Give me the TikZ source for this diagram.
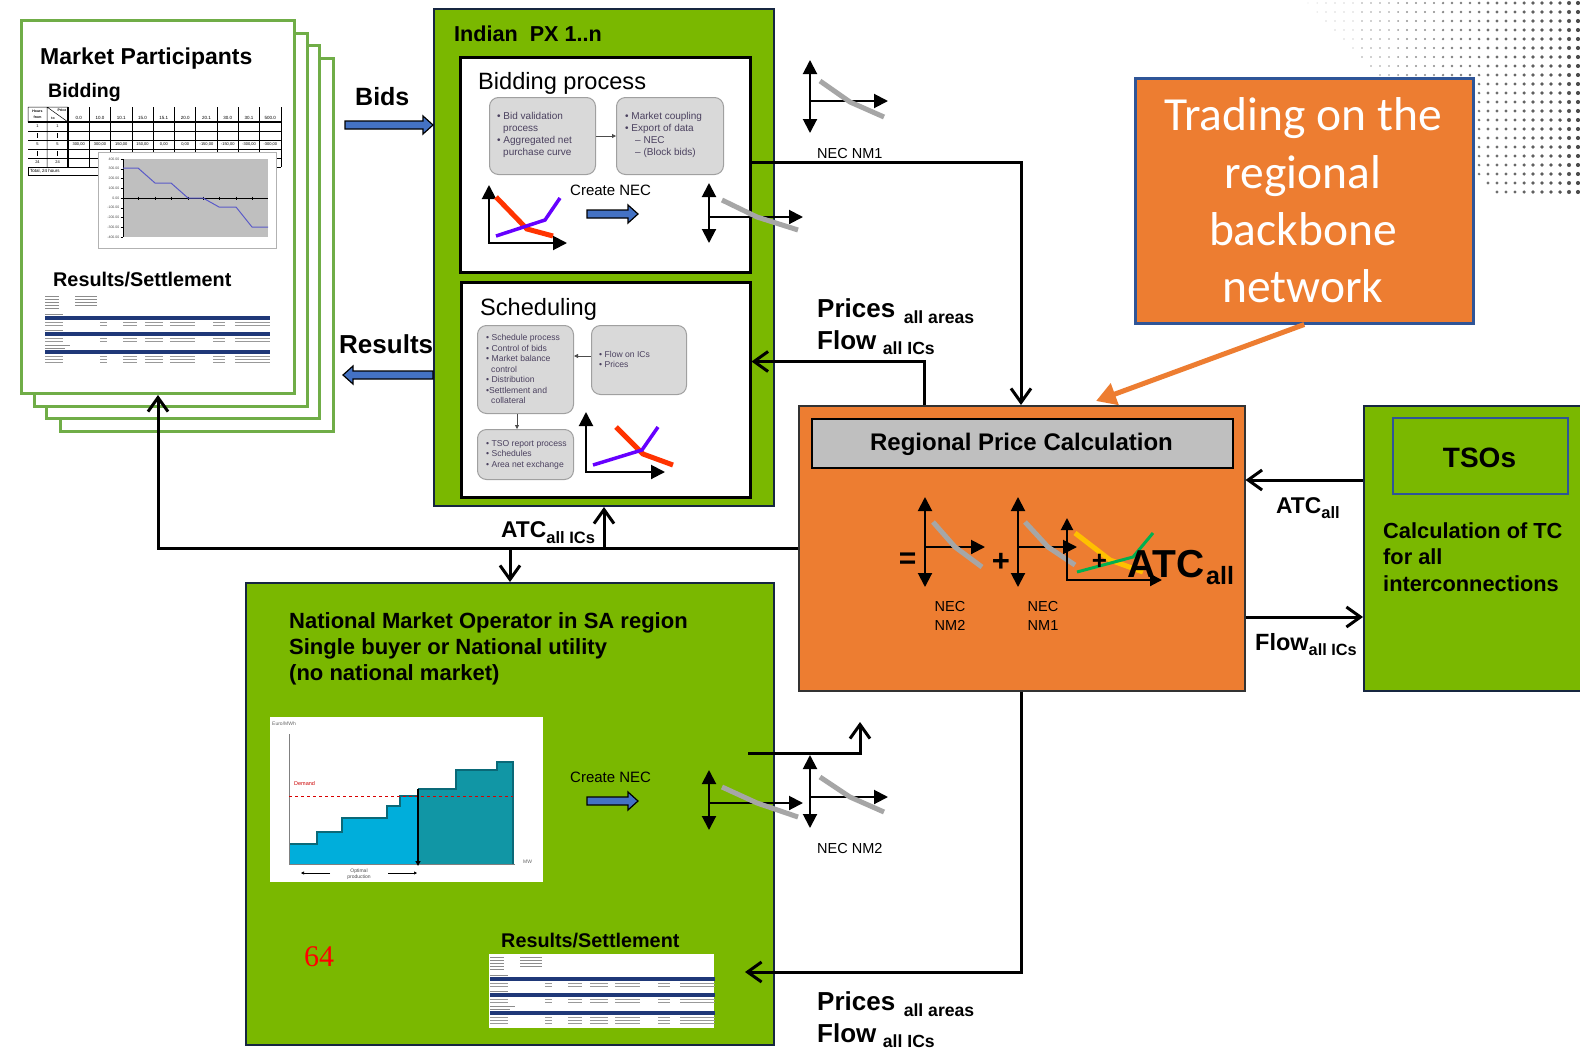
\documentclass[tikz,border=0pt]{standalone}
\usepackage{fontspec}
\setmainfont{Liberation Sans}
\newfontfamily\calibrifont{Carlito}
\newfontfamily\timesfont{Liberation Serif}
\usetikzlibrary{arrows.meta,calc}

\definecolor{pxgreen}{RGB}{122,184,0}
\definecolor{navyline}{RGB}{22,38,64}
\definecolor{pagegreen}{RGB}{112,173,71}
\definecolor{orng}{RGB}{237,125,49}
\definecolor{blockblue}{RGB}{68,114,196}
\definecolor{tsoblue}{RGB}{47,85,151}
\definecolor{boxfill}{RGB}{217,217,217}
\definecolor{boxline}{RGB}{160,160,160}
\definecolor{curvegray}{RGB}{166,166,166}
\definecolor{redline}{RGB}{255,51,0}
\definecolor{purpline}{RGB}{102,0,255}
\definecolor{yell}{RGB}{255,192,0}
\definecolor{grn}{RGB}{0,176,80}
\definecolor{titlegray}{RGB}{191,191,191}
\definecolor{stepblue}{RGB}{0,174,219}
\definecolor{stepteal}{RGB}{17,150,165}
\definecolor{steptealdark}{RGB}{10,105,120}
\definecolor{tinytext}{RGB}{75,65,95}
\definecolor{docnavy}{RGB}{31,56,120}
\definecolor{chartblue}{RGB}{90,90,200}

\newcommand\fsz[2]{\fontsize{#1}{#2}\selectfont}

\newcommand\necicon[8]{%
 \begin{scope}[shift={(#1,#2)}]
  \draw[axisline,{Triangle[length=14pt,width=14pt]}-{Triangle[length=14pt,width=14pt]}] (0,-#3) -- (0,#4);
  \draw[axisline,-{Triangle[length=14pt,width=14pt]}] (0,0) -- (#5,0);
  \draw[necline] #6 -- #7 -- #8;
 \end{scope}}

\newcommand\blockarrow[2]{%
 \draw[blockarrowstyle] let \p1=#1, \p2=#2, \n1={sign(\x2-\x1)} in
  ({\x1},{\y1+4pt}) -- ({\x2-\n1*10pt},{\y1+4pt}) -- ({\x2-\n1*10pt},{\y1+9pt}) -- ({\x2},{\y1})
  -- ({\x2-\n1*10pt},{\y1-9pt}) -- ({\x2-\n1*10pt},{\y1-4pt}) -- ({\x1},{\y1-4pt}) -- cycle;}

\newcommand\docrow[1]{%
 \draw[black!40] (0,#1) -- (18,#1) (55,#1) -- (62,#1) (78,#1) -- (92,#1) (100,#1) -- (118,#1)
   (125,#1) -- (150,#1) (168,#1) -- (180,#1) (190,#1) -- (225,#1);}

\newcommand\settledoc[2]{%
 \begin{scope}[shift={(#1,#2)}, line width=0.7pt]
  \foreach \yy in {1,4,7,10,13} \draw[black!45] (0,\yy) -- (14,\yy);
  \foreach \yy in {1,4,7,10} \draw[black!45] (30,\yy) -- (52,\yy);
  \draw[black!45] (0,19) -- (18,19);
  \fill[docnavy] (0,21) rectangle (225,24.5);
  \docrow{27.5}\docrow{30.5}
  \draw[black!45] (0,35) -- (18,35);
  \fill[docnavy] (0,37) rectangle (225,40.5);
  \docrow{43.5}\docrow{46.5}
  \draw[black!45] (0,50) -- (25,50) (0,53) -- (20,53);
  \fill[docnavy] (0,55) rectangle (225,58.5);
  \docrow{61.5}\docrow{64.5}\docrow{67.5}
 \end{scope}}

\begin{document}
\begin{tikzpicture}[x=1pt,y=-1pt,
  conn/.style={line width=3pt,-{Straight Barb[length=14pt,width=20pt]}},
  axisline/.style={line width=2pt},
  necline/.style={line width=5pt,curvegray},
  pxbox/.style={draw=navyline,line width=2pt,fill=pxgreen,inner sep=0pt,anchor=north west},
  wbox/.style={draw=black,line width=2.5pt,fill=white,inner sep=0pt,anchor=north west},
  gbox/.style={draw=boxline,line width=1pt,fill=boxfill,rounded corners=9pt,inner sep=0pt,anchor=north west},
  pagebox/.style={draw=pagegreen,line width=3pt,fill=white,inner sep=0pt,anchor=north west,minimum width=273pt,minimum height=373pt},
  lbl/.style={inner sep=0pt,anchor=base west},
  boxtxt/.style={inner sep=0pt,anchor=north west,align=left,text=tinytext},
  blockarrowstyle/.style={draw=black,line width=1.2pt,fill=blockblue,line join=miter},
  smallarr/.style={line width=0.8pt,black!70,-{Triangle[length=4pt,width=4pt]}},
  orarrow/.style={line width=5pt,orng,-{Triangle[length=20pt,width=22pt]}},
  tiny/.style={inner sep=0pt,font={\fsz{4}{4.5}}}
]
\useasboundingbox (0,0) rectangle (1580,1050);
\fill[white] (0,0) rectangle (1580,1050);

% ---------- halftone dots top right
\foreach \yy in {3,12,...,192} {
  \foreach \xx in {1308,1317,...,1578} {
    \pgfmathtruncatemacro\ok{(\xx>1302+\yy)}
    \ifnum\ok=1
      \pgfmathsetmacro\rr{0.4+1.7*(\xx-1300)/280}
      \pgfmathsetmacro\cc{25+45*(\xx-1300)/280}
      \fill[black!\cc] (\xx,\yy) circle[radius=\rr pt];
    \fi
  }
}

% ---------- Market participants pages
\node[pagebox] (mp4) at (59,57) {};
\node[pagebox] (mp3) at (45,44) {};
\node[pagebox] (mp2) at (33,32) {};
\node[pagebox] (mp1) at (20,19) {};
\node[lbl,font={\fsz{23}{27}\bfseries}] (mptitle) at (40,64) {Market Participants};
\node[lbl,font={\fsz{19.5}{23}\bfseries}] (mpbid) at (48,97) {Bidding};

% bid table
\begin{scope}[shift={(28,107)}]
  \draw[line width=1.2pt] (0,15) -- (253,15);
  \draw[line width=0.5pt] (0,0) -- (40,0) (0,0) -- (0,15) (19,0) -- (19,60) (19,0) -- (40,15);
  \draw[line width=0.5pt] (0,24) -- (253,24) (0,33) -- (253,33) (0,42) -- (253,42) (0,51) -- (253,51) (0,60) -- (253,60);
  \draw[line width=1.2pt] (40,0) -- (40,60);
  \foreach \k in {1,...,10} \draw[line width=0.7pt] ({40+21.3*\k},0) -- ({40+21.3*\k},60);
  \draw[line width=0.8pt] (0,60) rectangle (72,68);
  \node[tiny,font={\fsz{3.5}{4}\bfseries}] at (9.5,4) {Hours};
  \node[tiny,font={\fsz{3.5}{4}\bfseries}] at (9.5,10) {from};
  \node[tiny,font={\fsz{3.5}{4}\bfseries}] at (34,3.5) {Price};
  \node[tiny,font={\fsz{3.5}{4}\bfseries}] at (25,11) {to};
  \foreach \v [count=\k] in {0.0,10.0,10.1,15.0,15.1,20.0,20.1,30.0,30.1,500.0}
    \node[tiny,font={\fsz{4.5}{5}}] at ({40+21.3*\k-10.65},10.5) {\v};
  \node[tiny] at (9.5,19.5) {1};
  \node[tiny] at (29.5,19.5) {1};
  \draw[line width=0.4pt] (9.5,26) -- (9.5,31) (29.5,26) -- (29.5,31) (9.5,44) -- (9.5,49) (29.5,44) -- (29.5,49);
  \node[tiny] at (9.5,37.5) {5};
  \node[tiny] at (29.5,37.5) {5};
  \foreach \v [count=\k] in {{300,00},{300,00},{150,00},{150,00},{0,00},{0,00},{-150,00},{-150,00},{-300,00},{-300,00}}
    \node[tiny] at ({40+21.3*\k-10.65},37.5) {\v};
  \node[tiny] at (9.5,55.5) {24};
  \node[tiny] at (29.5,55.5) {24};
  \node[tiny,anchor=west,font={\fsz{4.5}{5}}] at (2,64.5) {Total, 24 hours};
\end{scope}

% bid chart
\node[draw=black!30,line width=1pt,fill=white,inner sep=0pt,anchor=north west,minimum width=178pt,minimum height=96pt] (mpchart) at (98,152) {};
\fill[black!25] (123,159) rectangle (268,237);
\draw[line width=0.6pt] (123,159) -- (123,237);
\foreach \v [count=\k from 0] in {400.00,300.00,200.00,100.00,0.00,-100.00,-200.00,-300.00,-400.00} {
  \draw[line width=0.5pt] (120.5,{159+9.75*\k}) -- (123,{159+9.75*\k});
  \node[inner sep=0pt,anchor=east,font={\fsz{3.5}{4}},text=black!70] at (119.5,{159+9.75*\k}) {\v};
}
\draw[line width=0.6pt] (123,198) -- (268,198);
\foreach \xx in {138,155,171,188,203,219,236,252} \draw[line width=0.6pt] (\xx,196.5) -- (\xx,199.5);
\draw[chartblue,line width=1pt] (123,168) -- (138,168) -- (155,183) -- (171,183) -- (188,198) -- (203,198) -- (219,207) -- (236,207) -- (252,227) -- (268,227);

\node[lbl,font={\fsz{19.8}{23}\bfseries}] (mpres) at (53,286) {Results/Settlement};
\settledoc{45}{295}

% ---------- Indian PX
\node[pxbox,minimum width=340pt,minimum height=497pt] (px) at (433,8) {};
\node[lbl,font={\fsz{21.6}{25}\bfseries}] (pxtitle) at (454,41) {Indian~ PX 1..n};

\node[wbox,minimum width=290pt,minimum height=215pt] (bidbox) at (459,56) {};
\node[lbl,font={\fsz{23.6}{27}}] (bidtitle) at (478,89) {Bidding process};
\node[gbox,minimum width=106pt,minimum height=77pt] (ga) at (489,97) {};
\node[gbox,minimum width=107pt,minimum height=77pt] (gb) at (616,97) {};
\node[boxtxt,font={\fsz{10}{12}}] (gatxt) at (497,112.5) {• Bid validation\\\hspace*{6pt}process\\• Aggregated net\\\hspace*{6pt}purchase curve};
\node[boxtxt,font={\fsz{10}{12}}] (gbtxt) at (625,112.5) {• Market coupling\\• Export of data\\\hspace*{10pt}– NEC\\\hspace*{10pt}– (Block bids)};
\draw[smallarr] (ga.east) -- (gb.west);

\draw[axisline,{Triangle[length=14pt,width=14pt]}-{Triangle[length=14pt,width=14pt]}] (489,185) -- (489,243) -- (567,243);
\draw[line width=5pt,redline] (496,197) -- (527,229) -- (553,236);
\draw[line width=3.5pt,purpline] (496,236) -- (545,220) -- (560,198);
\node[lbl,font={\fsz{15}{18}}] (cnec1) at (570,195) {Create NEC};
\coordinate (cn1a) at (587,214);
\coordinate (cn1b) at (638,214);
\blockarrow{(cn1a)}{(cn1b)}

\node[wbox,minimum width=289pt,minimum height=215pt] (schedbox) at (460,281) {};
\node[lbl,font={\fsz{23.6}{27}}] (schedtitle) at (480,315) {Scheduling};
\node[gbox,minimum width=96pt,minimum height=88pt] (gc) at (477,325) {};
\node[gbox,minimum width=95pt,minimum height=69pt] (gd) at (591,325) {};
\node[gbox,minimum width=96pt,minimum height=50pt] (ge) at (477,429) {};
\node[boxtxt,font={\fsz{8.6}{10.5}}] (gctxt) at (486,334.5) {• Schedule process\\• Control of bids\\• Market balance\\\hspace*{5pt}control\\• Distribution\\•Settlement and\\\hspace*{5pt}collateral};
\node[boxtxt,font={\fsz{8.6}{10.5}}] (gdtxt) at (599,351) {• Flow on ICs\\• Prices};
\node[boxtxt,font={\fsz{8.6}{10.5}}] (getxt) at (486,440) {• TSO report process\\• Schedules\\• Area net exchange};
\draw[smallarr] (gd.west |- 0,356) -- (gc.east |- 0,356);
\draw[smallarr] (gc.south -| 517,0) -- (ge.north -| 517,0);

\draw[axisline,{Triangle[length=14pt,width=14pt]}-{Triangle[length=14pt,width=14pt]}] (586,412) -- (586,472) -- (665,472);
\draw[line width=5pt,redline] (616,427) -- (643,454) -- (673,465);
\draw[line width=3.5pt,purpline] (593,465) -- (642,450) -- (658,427);

% ---------- National market operator
\node[pxbox,minimum width=528pt,minimum height=462pt] (nmo) at (245,582) {};
\node[boxtxt,text=black,font={\fsz{22}{26}\bfseries}] (nmotitle) at (289,612.3) {National Market Operator in SA region\\Single buyer or National utility\\(no national market)};
\node[fill=white,inner sep=0pt,anchor=north west,minimum width=273pt,minimum height=165pt] (merit) at (270,717) {};
\fill[stepblue] (289,864) -- (289,844) -- (317,844) -- (317,832) -- (342,832) -- (342,818) -- (387,818) -- (387,806) -- (400,806) -- (400,796) -- (418,796) -- (418,864) -- cycle;
\fill[stepteal] (418,864) -- (418,789) -- (456,789) -- (456,770) -- (497,770) -- (497,762) -- (513,762) -- (513,864) -- cycle;
\draw[steptealdark,line width=1.5pt] (289,844) -- (317,844) -- (317,832) -- (342,832) -- (342,818) -- (387,818) -- (387,806) -- (400,806) -- (400,796) -- (418,796) (418,789) -- (456,789) -- (456,770) -- (497,770) -- (497,762) -- (513,762) -- (513,864);
\draw[black!50,line width=0.8pt] (289,734) -- (289,864) -- (515,864);
\draw[red!85!black,dashed,line width=0.8pt] (289,796) -- (513,796);
\draw[line width=1.5pt,-{Triangle[length=5pt,width=5pt]}] (418,789) -- (418,866);
\node[inner sep=0pt,anchor=west,font={\fsz{5}{6}},text=black!60] at (272,724) {Euro/MWh};
\node[inner sep=0pt,anchor=west,font={\fsz{5.5}{6}},text=red!80!black] at (294,784) {Demand};
\node[inner sep=0pt,anchor=west,font={\fsz{5}{6}},text=black!60] at (523,862) {MW};
\node[inner sep=0pt,align=center,font={\fsz{5}{6}},text=black!70] at (359,874.5) {Optimal\\production};
\draw[line width=0.7pt,-{Triangle[length=3pt,width=3pt]}] (330,873) -- (301,873);
\draw[line width=0.7pt,-{Triangle[length=3pt,width=3pt]}] (388,873) -- (417,873);

\node[lbl,font={\fsz{15}{18}}] (cnec2) at (570,782) {Create NEC};
\coordinate (cn2a) at (587,801);
\coordinate (cn2b) at (638,801);
\blockarrow{(cn2a)}{(cn2b)}

\node[lbl,font={\fsz{19.8}{23}\bfseries}] (nmores) at (501,947) {Results/Settlement};
\node[fill=white,inner sep=0pt,anchor=north west,minimum width=225pt,minimum height=74pt] (nmodoc) at (489,954) {};
\settledoc{490}{956}
\node[lbl,font={\timesfont\fsz{30}{34}},text=red] (pagenum) at (304,966) {64};

% ---------- Regional price calculation
\node[draw=black!80,line width=1.5pt,fill=orng,inner sep=0pt,anchor=north west,minimum width=446pt,minimum height=285pt] (rpc) at (798,405) {};
\node[draw=black,line width=2pt,fill=titlegray,inner sep=0pt,anchor=north west,minimum width=421pt,minimum height=49pt] (rpctitle) at (811,418) {};
\node[inner sep=0pt,anchor=base,font={\fsz{24}{28}\bfseries}] (rpctext) at (1021.5,450) {Regional Price Calculation};

\necicon{925}{547}{50}{40}{60}{(8,-25)}{(30,0)}{(57,20)}
\necicon{1018}{547}{50}{40}{59}{(7,-25)}{(30,0)}{(57,18)}
\draw[axisline,{Triangle[length=12pt,width=12pt]}-{Triangle[length=12pt,width=12pt]}] (1067,518) -- (1067,580) -- (1162,580);
\draw[line width=5pt,yell] (1075,533) -- (1110,560) -- (1143,572);
\draw[line width=3pt,grn] (1077,572) -- (1133,557) -- (1153,533);
\node[inner sep=0pt,font={\fsz{30}{30}\bfseries}] (eqsign) at (907.5,560.5) {=};
\node[inner sep=0pt,font={\fsz{31}{31}\bfseries}] (plus1) at (1001,562.5) {+};
\node[inner sep=0pt,font={\fsz{26}{26}\bfseries}] (plus2) at (1099.5,562) {+};
\node[lbl,font={\fsz{39}{40}\bfseries}] (atcbig) at (1127,577) {ATC};
\node[lbl,font={\fsz{25}{28}\bfseries}] (atcbigsub) at (1206,584) {all};
\node[inner sep=0pt,anchor=north,align=center,font={\fsz{14.5}{19}}] (necnm2) at (950,601.6) {NEC\\NM2};
\node[inner sep=0pt,anchor=north,align=center,font={\fsz{14.5}{19}}] (necnm1) at (1043,601.6) {NEC\\NM1};

% ---------- TSOs
\node[pxbox,minimum width=240pt,minimum height=285pt] (tso) at (1363,405) {};
\node[draw=tsoblue,line width=2pt,fill=pxgreen,inner sep=0pt,anchor=north west,minimum width=175pt,minimum height=76pt] (tsotitle) at (1392,417) {};
\node[inner sep=0pt,anchor=base,font={\fsz{28}{32}\bfseries}] (tsotext) at (1479.5,467) {TSOs};
\node[boxtxt,text=black,font={\fsz{21.8}{26.5}\bfseries}] (tsocalc) at (1383,522.2) {Calculation of TC\\for all\\interconnections};

% ---------- NEC icons outside / inside
\necicon{709}{217}{34}{26}{94}{(13,-17)}{(48,0)}{(89,13)}
\necicon{810}{101}{41}{32}{78}{(10,-20)}{(40,1)}{(74,16)}
\node[lbl,font={\fsz{14.5}{18}}] (lblnm1) at (817,158) {NEC NM1};
\necicon{709}{803}{33}{27}{94}{(13,-16)}{(48,0)}{(89,14)}
\necicon{810}{797}{42}{31}{78}{(10,-20)}{(40,0)}{(74,15)}
\node[lbl,font={\fsz{14.5}{18}}] (lblnm2) at (817,853) {NEC NM2};

% ---------- connectors
\coordinate (nm1y) at (0,162);
\draw[conn] (bidbox.east |- nm1y) -| (rpc.north -| 1021,0);
\draw[conn] (rpc.north -| 924,0) |- (schedbox.east |- 0,361.5);
\coordinate (atcy) at (0,548);
\draw[conn] (rpc.west |- atcy) -| (mp1.south);
\draw[conn] (px.south |- atcy) -- (px.south);
\coordinate (atcdown) at (510,548);
\draw[conn] (atcdown) -- (nmo.north -| atcdown);
\draw[conn] (tso.west |- 0,480) -- (rpc.east |- 0,480);
\draw[conn] (rpc.east |- 0,617) -- (tso.west |- 0,617);
\coordinate (nm2start) at (748,753);
\coordinate (nm2end) at (860,722);
\draw[conn] (nm2start) -| (nm2end);
\coordinate (pricesend) at (745,972);
\draw[conn] (rpc.south -| 1021,0) |- (pricesend);

\coordinate (bidsstart) at (345,125);
\blockarrow{(bidsstart)}{(px.west |- bidsstart)}
\coordinate (resend) at (343,375);
\blockarrow{(px.west |- resend)}{(resend)}

% ---------- connector labels
\node[lbl,font={\fsz{25}{28}\bfseries}] (bidslbl) at (355,105) {Bids};
\node[lbl,font={\fsz{26}{28}\bfseries}] (reslbl) at (339,353) {Results};
\node[lbl,font=\bfseries] (atcics) at (501,537) {\fsz{22.8}{26}ATC\fsz{16.5}{18}\raisebox{-6pt}{all ICs}};
\node[lbl,font=\bfseries] (pricetop) at (817,317) {\fsz{26}{30}Prices\hspace{8.5pt}\fsz{17.6}{20}\raisebox{-6pt}{all areas}};
\node[lbl,font=\bfseries] (flowtop) at (817,349) {\fsz{26}{30}Flow\hspace{6.5pt}\fsz{17.6}{20}\raisebox{-5pt}{all ICs}};
\node[lbl,font=\bfseries] (pricebot) at (817,1010) {\fsz{26}{30}Prices\hspace{8.5pt}\fsz{17.6}{20}\raisebox{-6pt}{all areas}};
\node[lbl,font=\bfseries] (flowbot) at (817,1042) {\fsz{26}{30}Flow\hspace{6.5pt}\fsz{17.6}{20}\raisebox{-5pt}{all ICs}};
\node[lbl,font=\bfseries] (atcall) at (1276,513) {\fsz{22.8}{25}ATC\fsz{16.5}{18}\raisebox{-5pt}{all}};
\node[lbl,font=\bfseries] (flowics) at (1255,650) {\fsz{23.5}{27}Flow\fsz{16.3}{18}\raisebox{-5pt}{all ICs}};

% ---------- Trading box
\node[draw=tsoblue,line width=2.5pt,fill=orng,inner sep=0pt,anchor=north west,minimum width=338pt,minimum height=245pt] (trade) at (1134,77) {};
\node[inner sep=0pt,anchor=base,font={\calibrifont\fsz{47.5}{57}},text=white] (trade1) at (1303,130) {Trading on the};
\node[inner sep=0pt,anchor=base,font={\calibrifont\fsz{47.5}{57}},text=white] (trade2) at (1303,188) {regional};
\node[inner sep=0pt,anchor=base,font={\calibrifont\fsz{47.5}{57}},text=white] (trade3) at (1303,245) {backbone};
\node[inner sep=0pt,anchor=base,font={\calibrifont\fsz{47.5}{57}},text=white] (trade4) at (1303,302) {network};
\coordinate (tradetip) at (1096,401);
\draw[orarrow] (trade.south) -- (tradetip);
\end{tikzpicture}
\end{document}
